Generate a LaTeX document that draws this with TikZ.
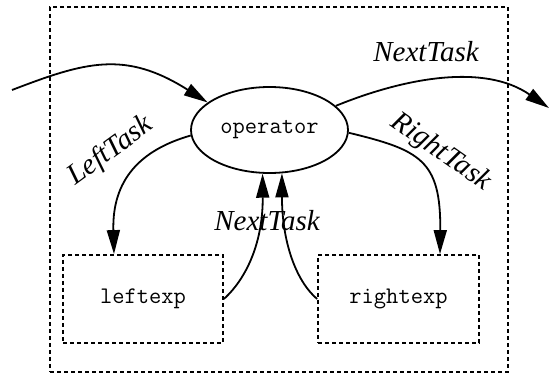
\documentclass[tikz,border=0pt]{standalone}
\usepackage{fontspec}
\setmainfont{Liberation Serif}
\usetikzlibrary{arrows.meta,shapes.geometric}
\tikzset{
  dbox/.style={draw, line width=1.8pt, dash pattern=on 4pt off 3pt, rectangle, inner sep=0pt},
  monotext/.style={font=\ttfamily\fontsize{23.8}{25}\selectfont},
  opnode/.style={draw, line width=1.8pt, ellipse, minimum width=157pt, minimum height=86pt, inner sep=0pt, monotext},
  expbox/.style={dbox, minimum width=160pt, minimum height=88pt, monotext},
  lbl/.style={anchor=base, inner sep=0pt, font=\itshape\fontsize{29}{31}\selectfont},
  arr/.style={line width=1.8pt, -{Triangle[length=24pt,width=13pt]}},
}
\begin{document}
\begin{tikzpicture}[x=1pt,y=-1pt]
\useasboundingbox (0,0) rectangle (550,374);
\node[dbox, minimum width=458pt, minimum height=365pt] (frame) at (279,189.5) {};
\node[opnode] (op) at (269.5,130) {\raisebox{-3pt}{operator}};
\node[expbox] (leftexp) at (143,299) {\raisebox{-1pt}{leftexp}};
\node[expbox, minimum width=161pt] (rightexp) at (398.5,299) {\raisebox{-1pt}{rightexp}};
\coordinate (in) at (12,90);
\coordinate (out) at (549,108);
\draw[arr] (in) .. controls (85,62) and (125,50) .. (op.156);
\draw[arr] (op.20) .. controls (404,78) and (484,63) .. (out);
\draw[arr] (op.184) .. controls (140,150) and (112,180) .. ([xshift=-29pt]leftexp.north);
\draw[arr] (op.-2) .. controls (420,150) and (441,160) .. ([xshift=41.5pt]rightexp.north);
\draw[arr] (leftexp.east) .. controls (248,277) and (263,240) .. (op.261);
\draw[arr] (rightexp.west) .. controls (295,280) and (282,240) .. (op.286);
\node[lbl] (nexttop) at (426,62) {NextTask};
\node[lbl] (nextmid) at (267,231) {NextTask};
\node[lbl, rotate=36] (lefttask) at (115,157) {LeftTask};
\node[lbl, rotate=-35] (righttask) at (437,158) {RightTask};
\end{tikzpicture}
\end{document}
